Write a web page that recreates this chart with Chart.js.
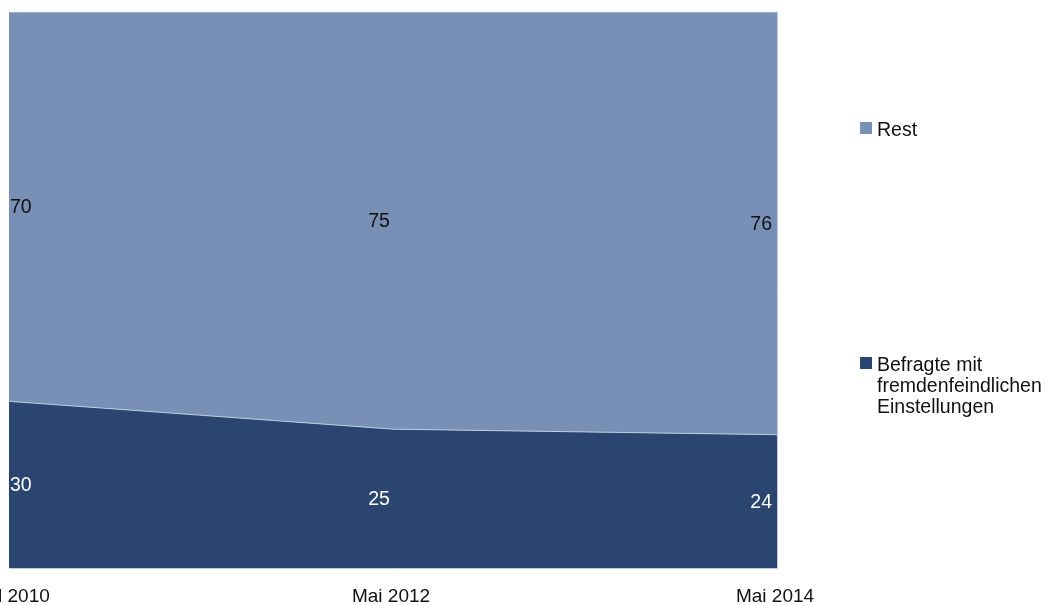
<!DOCTYPE html>
<html>
<head>
<meta charset="utf-8">
<script src="https://cdn.jsdelivr.net/npm/chart.js@4.4.0/dist/chart.umd.min.js"></script>
<style>
  html, body { margin: 0; padding: 0; background: #fff; overflow: hidden; }
  #wrap { position: absolute; left: 0; top: 0; width: 1050px; height: 637px; }
  .leg { position: absolute; left: 860px; font: 19.5px "Liberation Sans", Arial, sans-serif; color: #111; line-height: 21px; }
  .leg .box { position: absolute; left: 0; width: 12px; height: 12px; }
  .leg .txt { position: absolute; left: 17px; white-space: nowrap; }
</style>
</head>
<body>
<div id="wrap"><canvas id="chart"></canvas></div>
<div id="legend"></div>
<script>
const labels = ["April 2010", "Mai 2012", "Mai 2014"];
const fremdenfeindlich = [30, 25, 24];
const rest = [70, 75, 76];

const darkBlue = "rgb(42, 70, 112)";
const lightBlue = "rgb(120, 144, 181)";
const edge = "rgb(190, 205, 225)";
const font = "'Liberation Sans', Arial, sans-serif";

// value labels centred in each band
const valueLabels = {
  id: "valueLabels",
  afterDatasetsDraw(chart) {
    const ctx = chart.ctx;
    const y = chart.scales.y;
    const n = chart.data.labels.length;
    ctx.save();
    ctx.font = "19.5px " + font;
    ctx.textBaseline = "middle";
    chart.data.datasets.forEach((ds, di) => {
      const meta = chart.getDatasetMeta(di);
      ds.data.forEach((v, i) => {
        let base = 0;
        for (let k = 0; k < di; k++) base += chart.data.datasets[k].data[i];
        const yc = (y.getPixelForValue(base) + y.getPixelForValue(base + v)) / 2;
        const x = meta.data[i].x;
        let tx = x;
        if (i === 0) { ctx.textAlign = "left"; tx = x + 1; }
        else if (i === n - 1) { ctx.textAlign = "right"; tx = x - 5; }
        else { ctx.textAlign = "center"; tx = x - 14; }
        ctx.fillStyle = ds.labelColor;
        ctx.fillText(String(v), tx, yc + 1);
      });
    });
    ctx.restore();
  }
};

const chart = new Chart(document.getElementById("chart"), {
  type: "line",
  data: {
    labels: labels,
    datasets: [
      {
        label: ["Befragte mit", "fremdenfeindlichen", "Einstellungen"],
        data: fremdenfeindlich,
        backgroundColor: darkBlue,
        borderColor: edge,
        borderWidth: 1,
        fill: "origin",
        pointRadius: 0,
        tension: 0,
        labelColor: "#fff"
      },
      {
        label: ["Rest"],
        data: rest,
        backgroundColor: lightBlue,
        borderColor: edge,
        borderWidth: 1,
        fill: "-1",
        pointRadius: 0,
        tension: 0,
        labelColor: "#111"
      }
    ]
  },
  options: {
    responsive: true,
    maintainAspectRatio: false,
    animation: false,
    layout: { padding: { left: 9, top: 12, right: 273, bottom: 12 } },
    plugins: { legend: { display: false }, tooltip: { enabled: false } },
    scales: {
      x: {
        grid: { display: false, drawTicks: false },
        border: { display: true, color: edge, width: 1 },
        ticks: { font: { family: font, size: 19 }, color: "#111", padding: 17, labelOffset: -2, maxRotation: 0 },
        afterFit: (scale) => { scale.paddingLeft = 0; scale.paddingRight = 0; }
      },
      y: {
        position: "right",
        stacked: true,
        min: 0,
        max: 100,
        grid: { display: false, drawTicks: false },
        border: { display: true, color: edge, width: 1 },
        ticks: { display: false }
      }
    }
  },
  plugins: [valueLabels]
});

// legend, top entry first
const legendTops = [122, 357];
const legendEl = document.getElementById("legend");
chart.data.datasets.slice().reverse().forEach((ds, i) => {
  const item = document.createElement("div");
  item.className = "leg";
  item.style.top = legendTops[i] + "px";
  item.innerHTML = '<div class="box" style="top:0;background:' + ds.backgroundColor + '"></div>' +
    '<div class="txt" style="top:-3px">' + ds.label.join("<br>") + '</div>';
  legendEl.appendChild(item);
});
</script>
</body>
</html>
